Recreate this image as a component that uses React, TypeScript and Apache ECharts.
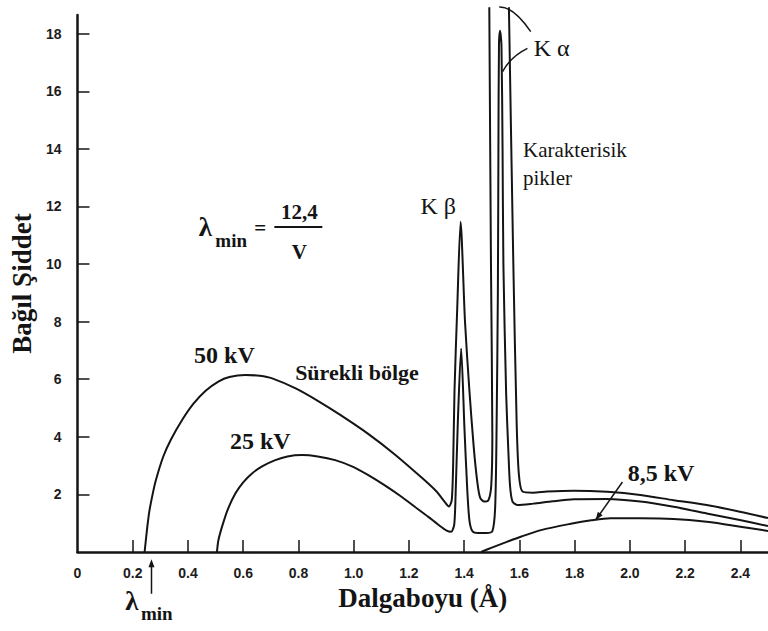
import React, { useEffect, useRef } from "react";
import * as echarts from "echarts";

// Wavelength (Å) vs relative intensity for three tube voltages.
// A null value marks where the Kα peak of the 50 kV trace runs off the top.
const curve50kV: [number, number | null][] = [
  [0.243, 0], [0.252, 0.8], [0.26, 1.4], [0.272, 2.0], [0.284, 2.5], [0.31, 3.3],
  [0.338, 3.9], [0.38, 4.6], [0.42, 5.15], [0.464, 5.6], [0.51, 5.92], [0.55, 6.08],
  [0.608, 6.15], [0.66, 6.12], [0.705, 6.03], [0.79, 5.68], [0.87, 5.25], [0.95, 4.77],
  [1.05, 4.12], [1.15, 3.38], [1.25, 2.55], [1.3, 2.1], [1.328, 1.76], [1.345, 1.58],
  [1.355, 1.8], [1.36, 3.0], [1.365, 5.6], [1.375, 8.5], [1.387, 11.47], [1.403, 8.0],
  [1.419, 5.6], [1.435, 3.6], [1.448, 2.4], [1.458, 1.88], [1.473, 1.75], [1.488, 1.8],
  [1.498, 2.3], [1.502, 4.0], [1.497, 10], [1.491, 18.92], [1.53, null], [1.562, 18.92],
  [1.578, 10], [1.59, 4.5], [1.598, 2.7], [1.611, 2.1], [1.65, 2.06], [1.7, 2.1],
  [1.797, 2.13], [1.918, 2.09], [2.038, 1.98], [2.158, 1.8], [2.278, 1.63], [2.398, 1.4],
  [2.5, 1.18],
];

const curve25kV: [number, number][] = [
  [0.505, 0], [0.51, 0.4], [0.524, 0.9], [0.545, 1.5], [0.572, 2.04], [0.6, 2.42],
  [0.632, 2.73], [0.67, 2.98], [0.716, 3.19], [0.76, 3.32], [0.813, 3.37], [0.87, 3.32],
  [0.933, 3.19], [1.0, 2.95], [1.053, 2.67], [1.11, 2.33], [1.173, 1.92], [1.22, 1.58],
  [1.269, 1.23], [1.31, 0.92], [1.335, 0.75], [1.353, 0.7], [1.364, 0.95], [1.369, 2.0],
  [1.377, 4.5], [1.389, 7.07], [1.401, 4.3], [1.411, 2.2], [1.419, 1.1], [1.43, 0.72],
  [1.45, 0.66], [1.48, 0.66], [1.502, 0.72], [1.512, 1.5], [1.517, 4.0], [1.522, 9.0],
  [1.524, 14], [1.526, 17.6], [1.53, 18.1], [1.535, 17.6], [1.539, 14], [1.542, 10],
  [1.552, 5.5], [1.56, 3.5], [1.566, 2.3], [1.575, 1.75], [1.594, 1.63], [1.65, 1.68],
  [1.72, 1.76], [1.797, 1.83], [1.918, 1.84], [2.038, 1.75], [2.158, 1.57], [2.278, 1.34],
  [2.398, 1.11], [2.5, 0.9],
];

const curve8_5kV: [number, number][] = [
  [1.461, 0], [1.5, 0.15], [1.557, 0.36], [1.605, 0.53], [1.678, 0.76], [1.786, 0.98],
  [1.86, 1.1], [1.93, 1.17], [2.036, 1.17], [2.158, 1.15], [2.278, 1.05], [2.4, 0.88],
  [2.5, 0.73],
];

const xTicks = [0.2, 0.4, 0.6, 0.8, 1.0, 1.2, 1.4, 1.6, 1.8, 2.0, 2.2, 2.4];
const xLabels = [0, 0.2, 0.4, 0.6, 0.8, 1.0, 1.2, 1.4, 1.6, 1.8, 2.0, 2.2, 2.4];
const yTicks = [2, 4, 6, 8, 10, 12, 14, 16, 18];

const SERIF = '"Liberation Serif", "Times New Roman", serif';
const SANS = '"Liberation Sans", Arial, sans-serif';
const INK = "#141414";

export default function App() {
  const ref = useRef<HTMLDivElement>(null);

  useEffect(() => {
    const chart = echarts.init(ref.current!, null, { renderer: "svg" });
    const lineStyle = { color: INK, width: 2 };
    chart.setOption({
      animation: false,
      backgroundColor: "#ffffff",
      grid: { left: 74.5, right: 0, top: 15, bottom: 79 },
      xAxis: {
        type: "value",
        min: 0,
        max: 2.5,
        name: "Dalgaboyu (Å)",
        nameLocation: "middle",
        nameGap: 31,
        nameTextStyle: { fontFamily: SERIF, fontWeight: "bold", fontSize: 27, color: INK },
        splitLine: { show: false },
        axisLine: { onZero: false, lineStyle: { color: INK, width: 2.5 } },
        axisTick: { inside: true, length: 12, customValues: xTicks, lineStyle: { color: INK, width: 1.5 } },
        axisLabel: {
          customValues: xLabels,
          margin: 14,
          fontFamily: SANS,
          fontWeight: "bold",
          fontSize: 14,
          color: "#1c1c1c",
          formatter: (v: number) => (v === 0 ? "0" : v.toFixed(1)),
        },
      },
      yAxis: {
        type: "value",
        min: 0,
        max: 18.65,
        name: "Bağıl Şiddet",
        nameLocation: "middle",
        nameRotate: 90,
        nameGap: 31,
        nameTextStyle: { fontFamily: SERIF, fontWeight: "bold", fontSize: 27, color: INK },
        splitLine: { show: false },
        axisLine: { lineStyle: { color: INK, width: 2.5 } },
        axisTick: { inside: true, length: 12, customValues: yTicks, lineStyle: { color: INK, width: 1.5 } },
        axisLabel: {
          customValues: yTicks,
          margin: 16,
          fontFamily: SANS,
          fontWeight: "bold",
          fontSize: 14,
          color: "#1c1c1c",
        },
      },
      series: [
        { name: "50 kV", type: "line", data: curve50kV, showSymbol: false, smooth: 0.25, clip: false, connectNulls: false, lineStyle },
        { name: "25 kV", type: "line", data: curve25kV, showSymbol: false, smooth: 0.25, clip: false, lineStyle },
        { name: "8,5 kV", type: "line", data: curve8_5kV, showSymbol: false, smooth: 0.3, clip: false, lineStyle },
      ],
    });

    const at = (x: number, y: number) => chart.convertToPixel({ gridIndex: 0 }, [x, y]) as number[];
    const txt = (
      text: string, p: number[], size: number, bold: boolean,
      align: "left" | "center" = "left", family = SERIF
    ) => ({
      type: "text",
      x: p[0],
      y: p[1],
      silent: true,
      style: {
        text, fill: INK, fontFamily: family, fontSize: size,
        fontWeight: bold ? "bold" : "normal", align, verticalAlign: "middle",
      },
    });
    const stroke = { stroke: INK, lineWidth: 1.5, fill: "none" };

    // Formula block, anchored at the λ glyph
    const f = at(0.463, 11.29);
    // λmin marker under the axis
    const lm = at(0.197, -1.7);
    const arrTop = at(0.268, -0.25);
    const arrBot = at(0.268, -1.45);
    // 8,5 kV leader
    const a0 = at(1.973, 2.43);
    const a1 = at(1.876, 1.11);
    const ang = Math.atan2(a1[1] - a0[1], a1[0] - a0[0]);
    const head = (tip: number[], angle: number, len = 8, half = 3) => [
      tip,
      [tip[0] - len * Math.cos(angle) + half * Math.sin(angle), tip[1] - len * Math.sin(angle) - half * Math.cos(angle)],
      [tip[0] - len * Math.cos(angle) - half * Math.sin(angle), tip[1] - len * Math.sin(angle) + half * Math.cos(angle)],
    ];
    // Kα leaders
    const k0 = at(1.527, 18.93);
    const k1 = at(1.641, 18.07);
    const kc = at(1.578, 18.95);
    const j0 = at(1.629, 17.49);
    const j1 = at(1.539, 16.68);
    const jc = at(1.568, 17.2);

    chart.setOption({
      graphic: [
        txt("50 kV", at(0.532, 6.84), 24, true, "center"),
        txt("25 kV", at(0.662, 3.86), 24, true, "center"),
        txt("Sürekli bölge", at(0.788, 6.23), 22, true),
        txt("K β", at(1.242, 12.0), 24, false),
        txt("K α", at(1.652, 17.5), 24, false),
        txt("Karakterisik", at(1.613, 13.96), 21, false),
        txt("pikler", at(1.613, 12.99), 21, false),
        txt("8,5 kV", at(1.992, 2.74), 24, true),
        // λmin = 12,4 / V
        txt("λ", f, 27, true, "center"),
        txt("min", [f[0] + 10, f[1] + 14], 19, true),
        txt("=", [f[0] + 55, f[1] + 1], 21, true, "center"),
        txt("12,4", [f[0] + 94, f[1] - 15], 21, true, "center"),
        { type: "line", silent: true, shape: { x1: f[0] + 69, y1: f[1], x2: f[0] + 117, y2: f[1] }, style: { stroke: INK, lineWidth: 2 } },
        txt("V", [f[0] + 94, f[1] + 25], 21, true, "center"),
        // λmin below the axis with its arrow
        txt("λ", lm, 27, true, "center"),
        txt("min", [lm[0] + 9, lm[1] + 13], 19, true),
        { type: "line", silent: true, shape: { x1: arrBot[0], y1: arrBot[1], x2: arrTop[0], y2: arrTop[1] + 6 }, style: { stroke: INK, lineWidth: 1.5 } },
        { type: "polygon", silent: true, shape: { points: head(arrTop, -Math.PI / 2, 8, 3) }, style: { fill: INK } },
        // 8,5 kV leader arrow
        { type: "line", silent: true, shape: { x1: a0[0], y1: a0[1], x2: a1[0], y2: a1[1] }, style: { stroke: INK, lineWidth: 1.5 } },
        { type: "polygon", silent: true, shape: { points: head(a1, ang, 8, 3) }, style: { fill: INK } },
        // Kα leaders
        { type: "bezierCurve", silent: true, shape: { x1: k0[0], y1: k0[1], x2: k1[0], y2: k1[1], cpx1: kc[0], cpy1: kc[1] }, style: stroke },
        { type: "bezierCurve", silent: true, shape: { x1: j0[0], y1: j0[1], x2: j1[0], y2: j1[1], cpx1: jc[0], cpy1: jc[1] }, style: stroke },
      ],
    });

    return () => chart.dispose();
  }, []);

  return (
    <div
      ref={ref}
      style={{ position: "absolute", left: 0, top: 0, width: 768, height: 631, background: "#fff" }}
    />
  );
}
